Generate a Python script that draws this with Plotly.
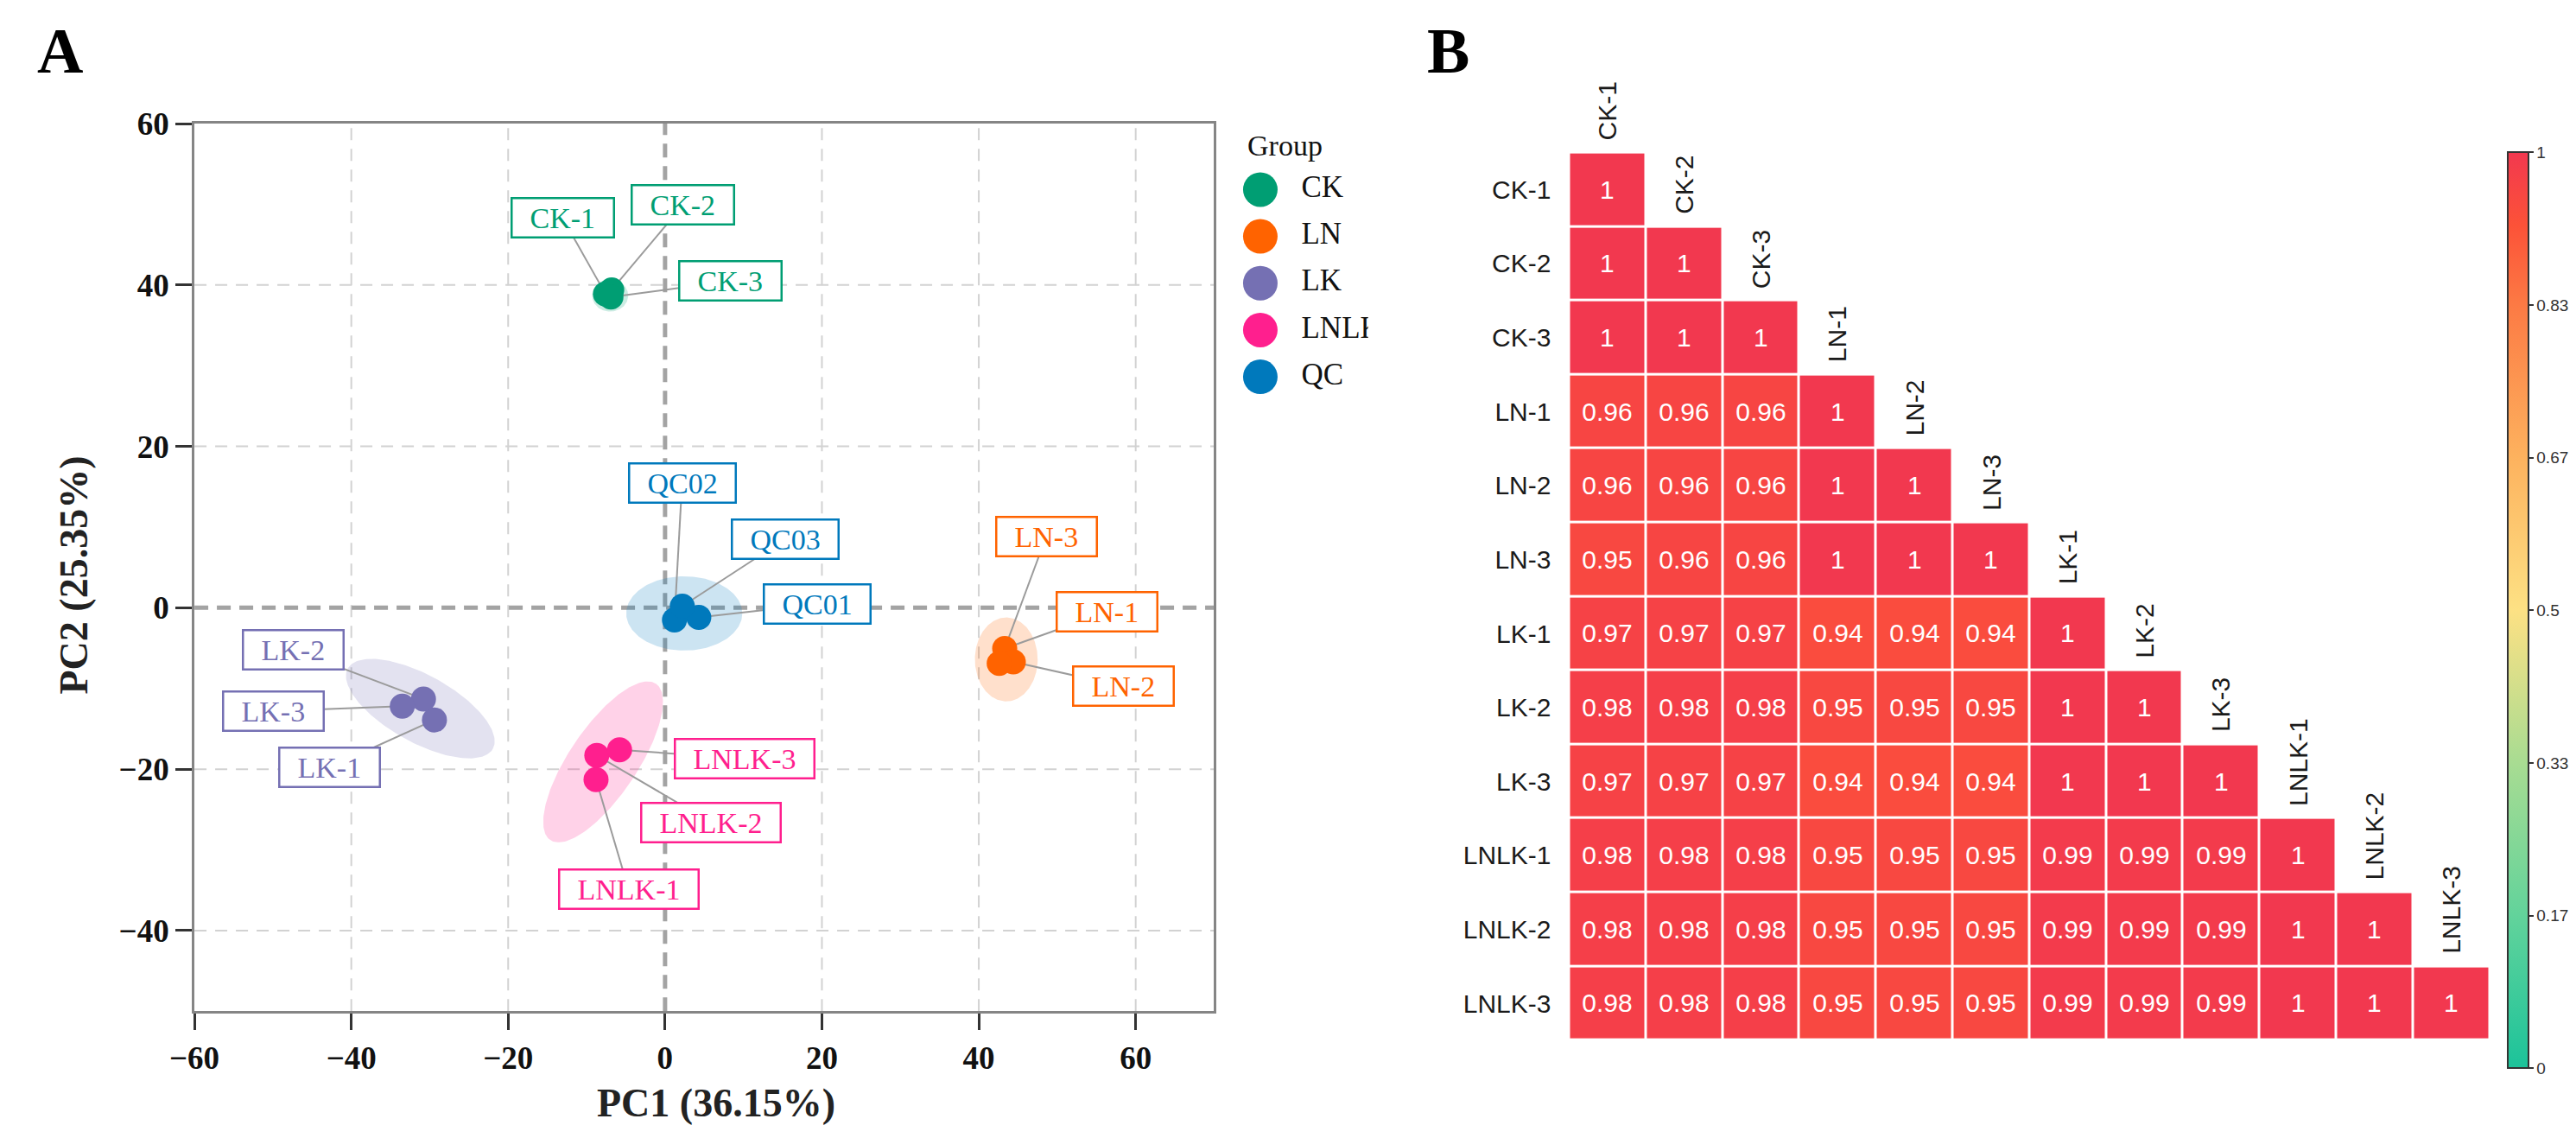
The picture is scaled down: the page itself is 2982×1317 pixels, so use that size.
import numpy as np
import plotly.graph_objects as go

# ---------------- Panel A data (PCA scores) ----------------
samples = ["CK-1", "CK-2", "CK-3", "LN-1", "LN-2", "LN-3", "LK-1", "LK-2", "LK-3",
           "LNLK-1", "LNLK-2", "LNLK-3", "QC01", "QC02", "QC03"]
sample_group = ["CK", "CK", "CK", "LN", "LN", "LN", "LK", "LK", "LK",
                "LNLK", "LNLK", "LNLK", "QC", "QC", "QC"]
pc1 = [-7.6, -6.8, -6.9, 43.3, 44.4, 42.6, -29.4, -30.8, -33.5, -8.8, -8.7, -5.8, 4.3, 1.2, 2.2]
pc2 = [38.9, 39.4, 38.5, -5.05, -6.7, -6.9, -13.9, -11.3, -12.2, -21.3, -18.3, -17.6, -1.2, -1.5, 0.2]

group_names = ["CK", "LN", "LK", "LNLK", "QC"]
group_colors = ["#009E73", "#FF6300", "#7570B3", "#FF1F8E", "#0079BC"]

# confidence ellipses (centre, semi-axes, rotation in degrees)
ell_cx = [-7.0, 43.5, -31.2, -7.9, 2.45]
ell_cy = [38.7, -6.4, -12.5, -19.1, -0.7]
ell_a = [2.3, 4.0, 10.5, 11.8, 7.4]
ell_b = [2.0, 5.2, 4.2, 4.3, 4.6]
ell_angle = [0, 0, -28, 55, 0]

x_ticks = [-60, -40, -20, 0, 20, 40, 60]
y_ticks = [-40, -20, 0, 20, 40, 60]
x_title = "PC1 (36.15%)"
y_title = "PC2 (25.35%)"

# label box positions (layout, data units)
label_pos = {
    "CK-1": (-13.06, 48.3), "CK-2": (2.28, 49.9), "CK-3": (8.3, 40.5),
    "LN-1": (56.4, -0.5), "LN-2": (58.4, -9.75), "LN-3": (48.6, 8.85),
    "LK-1": (-42.8, -19.8), "LK-2": (-47.4, -5.2), "LK-3": (-49.95, -12.8),
    "LNLK-1": (-4.65, -34.9), "LNLK-2": (5.9, -26.6), "LNLK-3": (10.2, -18.7),
    "QC01": (19.35, 0.45), "QC02": (2.17, 15.5), "QC03": (15.3, 8.5),
}

# ---------------- Panel B data (correlation) ----------------
corr_labels = ["CK-1", "CK-2", "CK-3", "LN-1", "LN-2", "LN-3", "LK-1", "LK-2", "LK-3",
               "LNLK-1", "LNLK-2", "LNLK-3"]
corr_lower = [
    [1],
    [1, 1],
    [1, 1, 1],
    [0.96, 0.96, 0.96, 1],
    [0.96, 0.96, 0.96, 1, 1],
    [0.95, 0.96, 0.96, 1, 1, 1],
    [0.97, 0.97, 0.97, 0.94, 0.94, 0.94, 1],
    [0.98, 0.98, 0.98, 0.95, 0.95, 0.95, 1, 1],
    [0.97, 0.97, 0.97, 0.94, 0.94, 0.94, 1, 1, 1],
    [0.98, 0.98, 0.98, 0.95, 0.95, 0.95, 0.99, 0.99, 0.99, 1],
    [0.98, 0.98, 0.98, 0.95, 0.95, 0.95, 0.99, 0.99, 0.99, 1, 1],
    [0.98, 0.98, 0.98, 0.95, 0.95, 0.95, 0.99, 0.99, 0.99, 1, 1, 1],
]
cbar_tickvals = [0, 1 / 6, 1 / 3, 0.5, 2 / 3, 5 / 6, 1]
cbar_ticktext = ["0", "0.17", "0.33", "0.5", "0.67", "0.83", "1"]
heat_colorscale = [[0, "#1CC39A"], [1 / 6, "#62D39B"], [1 / 3, "#A8DC92"], [0.5, "#FDE184"],
                   [2 / 3, "#FDB25E"], [5 / 6, "#FC7A44"], [0.92, "#FC5238"], [1, "#F2384F"]]

# ---------------- layout helpers ----------------
W, H = 2982, 1317
SERIF = "Liberation Serif, Times New Roman, serif"
SANS = "Liberation Sans, Arial, Helvetica, sans-serif"


def fx(p):
    return p / W


def fy(p):
    return 1 - p / H


def hex_rgba(h, a):
    h = h.lstrip("#")
    return "rgba(%d,%d,%d,%.2f)" % (int(h[0:2], 16), int(h[2:4], 16), int(h[4:6], 16), a)


color_of = dict(zip(group_names, group_colors))

fig = go.Figure()

# ellipses
t = np.linspace(0, 2 * np.pi, 200)
for g, cx, cy, a, b, ang, col in zip(group_names, ell_cx, ell_cy, ell_a, ell_b, ell_angle, group_colors):
    th = np.deg2rad(ang)
    ex = cx + a * np.cos(t) * np.cos(th) - b * np.sin(t) * np.sin(th)
    ey = cy + a * np.cos(t) * np.sin(th) + b * np.sin(t) * np.cos(th)
    fig.add_trace(go.Scatter(x=ex, y=ey, mode="lines", fill="toself", line=dict(width=0),
                             fillcolor=hex_rgba(col, 0.2), hoverinfo="skip", showlegend=False,
                             xaxis="x", yaxis="y"))

# connector lines from labels to points
cx_l, cy_l = [], []
for s, x, y in zip(samples, pc1, pc2):
    lx, ly = label_pos[s]
    cx_l += [lx, x, None]
    cy_l += [ly, y, None]
fig.add_trace(go.Scatter(x=cx_l, y=cy_l, mode="lines", line=dict(color="#9B9B9B", width=2),
                         hoverinfo="skip", showlegend=False, xaxis="x", yaxis="y"))

# points
for g, col in zip(group_names, group_colors):
    xs = [x for x, gg in zip(pc1, sample_group) if gg == g]
    ys = [y for y, gg in zip(pc2, sample_group) if gg == g]
    fig.add_trace(go.Scatter(x=xs, y=ys, mode="markers", name=g,
                             marker=dict(size=29, color=col, line=dict(width=0)),
                             showlegend=False, xaxis="x", yaxis="y"))

# label boxes
annotations = []
for s, g in zip(samples, sample_group):
    lx, ly = label_pos[s]
    col = color_of[g]
    annotations.append(dict(x=lx, y=ly, xref="x", yref="y", text="\u2002" + s + "\u2002",
                            showarrow=False, xanchor="center", yanchor="middle",
                            font=dict(family=SERIF, size=34, color=col),
                            bgcolor="white", bordercolor=col, borderwidth=2.5, borderpad=3))

# manual legend (big markers, clipped text like the original)
fig.add_trace(go.Scatter(x=[44] * len(group_names), y=list(range(len(group_names))), mode="markers",
                         marker=dict(size=40, color=group_colors), hoverinfo="skip",
                         showlegend=False, xaxis="x3", yaxis="y3", cliponaxis=True))
fig.add_trace(go.Scatter(x=[92] * len(group_names), y=list(range(len(group_names))), mode="text",
                         text=group_names, textposition="middle right",
                         textfont=dict(family=SERIF, size=35, color="#111111"), hoverinfo="skip",
                         showlegend=False, xaxis="x3", yaxis="y3", cliponaxis=True))
annotations.append(dict(x=fx(1427), y=fy(151), xref="paper", yref="paper", text="Group",
                        showarrow=False, xanchor="left", yanchor="middle",
                        font=dict(family=SERIF, size=34, color="#111111")))

# heatmap
n = len(corr_labels)
z = [[corr_lower[i][j] if j <= i else None for j in range(n)] for i in range(n)]
txt = [["{:g}".format(corr_lower[i][j]) if j <= i else "" for j in range(n)] for i in range(n)]
fig.add_trace(go.Heatmap(
    x=corr_labels, y=corr_labels, z=z, text=txt, texttemplate="%{text}",
    textfont=dict(family=SANS, size=30, color="white"),
    colorscale=heat_colorscale, zmin=0, zmax=1, xgap=3, ygap=3, hoverinfo="skip",
    xaxis="x2", yaxis="y2",
    colorbar=dict(x=fx(2902), xanchor="left", y=fy((159 + 1235) / 2), yanchor="middle",
                  len=(1235 - 159) / H, lenmode="fraction", thickness=24,
                  outlinewidth=2, outlinecolor="#333333", tickvals=cbar_tickvals,
                  ticktext=cbar_ticktext, ticks="outside", ticklen=5, tickwidth=2,
                  tickcolor="#333333", tickfont=dict(family=SANS, size=19, color="#333333"),
                  xpad=0, ypad=0)))

for j, name in enumerate(corr_labels):
    annotations.append(dict(x=j, y=j - 0.5, xref="x2", yref="y2", text=name, showarrow=False,
                            textangle=-90, xanchor="center", yanchor="bottom", yshift=12,
                            font=dict(family=SANS, size=30, color="#1a1a1a")))

# axis titles and panel letters
annotations += [
    dict(x=fx(808), y=fy(1276), xref="paper", yref="paper", text=x_title, showarrow=False,
         xanchor="center", yanchor="middle",
         font=dict(family=SERIF, size=46, color="#222222", weight="bold")),
    dict(x=fx(57), y=fy(655), xref="paper", yref="paper", text=y_title, showarrow=False,
         xanchor="center", yanchor="middle",
         textangle=-90, font=dict(family=SERIF, size=46, color="#222222", weight="bold")),
    dict(x=fx(41), y=fy(40), xref="paper", yref="paper", text="A", showarrow=False,
         xanchor="center", yanchor="middle",
         font=dict(family=SERIF, size=74, color="black", weight="bold")),
    dict(x=fx(1664), y=fy(40), xref="paper", yref="paper", text="B", showarrow=False,
         xanchor="center", yanchor="middle",
         font=dict(family=SERIF, size=74, color="black", weight="bold")),
]

# grid lines and zero lines (dashed)
shapes = []
xr = [-60, 70]
yr = [-50, 60]
for tv in x_ticks:
    if tv == 0 or tv == xr[0]:
        continue
    shapes.append(dict(type="line", xref="x", yref="y", x0=tv, x1=tv, y0=yr[0], y1=yr[1],
                       line=dict(color="#D2D2D2", width=2, dash="14px,10px"), layer="between"))
for tv in y_ticks:
    if tv == 0 or tv == yr[1]:
        continue
    shapes.append(dict(type="line", xref="x", yref="y", x0=xr[0], x1=xr[1], y0=tv, y1=tv,
                       line=dict(color="#D2D2D2", width=2, dash="14px,10px"), layer="between"))
shapes.append(dict(type="line", xref="x", yref="y", x0=0, x1=0, y0=yr[0], y1=yr[1],
                   line=dict(color="#A3A3A3", width=5, dash="16px,10px"), layer="between"))
shapes.append(dict(type="line", xref="x", yref="y", x0=xr[0], x1=xr[1], y0=0, y1=0,
                   line=dict(color="#A3A3A3", width=5, dash="16px,10px"), layer="between"))

tickfont_a = dict(family=SERIF, size=37, color="#111111", weight="bold")
fig.update_layout(
    width=W, height=H, margin=dict(l=0, r=0, t=0, b=0),
    paper_bgcolor="white", plot_bgcolor="white", showlegend=False,
    xaxis=dict(domain=[fx(198), fx(1390)], range=xr, tickvals=x_ticks, ticks="outside",
               ticklen=19, tickwidth=3, tickcolor="#333333", showline=True, linecolor="#858585",
               linewidth=3, mirror=True, showgrid=False, zeroline=False, tickfont=tickfont_a,
               anchor="y"),
    yaxis=dict(domain=[fy(1168), fy(125)], range=yr, tickvals=y_ticks, ticks="outside",
               ticklen=19, tickwidth=3, tickcolor="#333333", showline=True, linecolor="#858585",
               linewidth=3, mirror=True, showgrid=False, zeroline=False, tickfont=tickfont_a,
               anchor="x"),
    xaxis2=dict(domain=[fx(1805), fx(2881)], type="category", showticklabels=False,
                showgrid=False, zeroline=False, showline=False, ticks="", anchor="y2"),
    yaxis2=dict(domain=[fy(1235), fy(159)], type="category", autorange="reversed",
                ticks="outside", ticklen=14, tickcolor="rgba(0,0,0,0)", showgrid=False,
                zeroline=False, showline=False,
                tickfont=dict(family=SANS, size=30, color="#1a1a1a"), anchor="x2"),
    xaxis3=dict(domain=[fx(1400), fx(1570)], range=[0, 170], visible=False, anchor="y3"),
    yaxis3=dict(domain=[fy(450), fy(175)], range=[4.5, -0.5], visible=False, anchor="x3"),
    annotations=annotations, shapes=shapes,
)

fig.write_html("out.html", config={"displayModeBar": False},
               post_script="document.body.style.margin='0';document.body.style.overflow='hidden';")
